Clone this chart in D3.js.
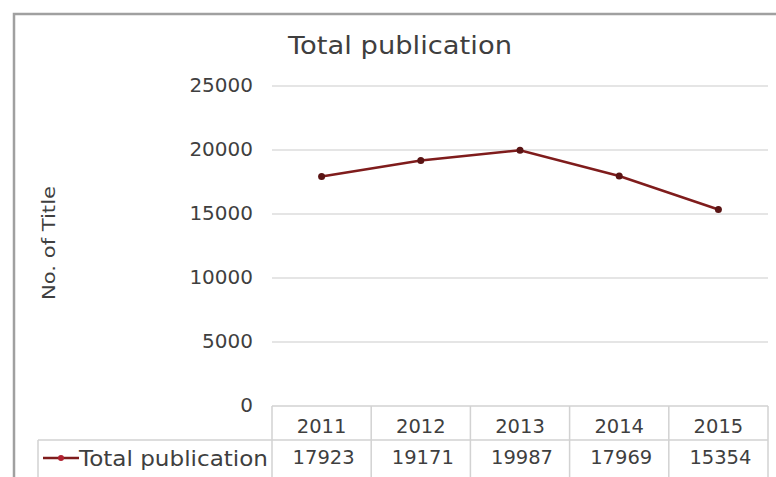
<!DOCTYPE html>
<html>
<head>
<meta charset="utf-8">
<script src="https://cdn.jsdelivr.net/npm/d3@7"></script>
<style>
  body { margin: 0; background: #fff; }
  svg { display: block; }
  text { font-family: "DejaVu Sans", sans-serif; fill: #3f3f3f; }
</style>
</head>
<body>
<div id="chart"></div>
<script>
// chart data
var years = ["2011", "2012", "2013", "2014", "2015"];
var totals = [17923, 19171, 19987, 17969, 15354];
var yTicks = [0, 5000, 10000, 15000, 20000, 25000];
var seriesName = "Total publication";

var w = 776;
var h = 477;
var lineColor = "#7f1c1c";

var svg = d3.select("#chart")
    .append("svg")
    .attr("width", w)
    .attr("height", h);

// outer frame (screenshot is cropped: only top and left edges show)
svg.append("path")
    .attr("d", "M14,477 V14 H776")
    .attr("fill", "none")
    .attr("stroke", "#a0a0a0")
    .attr("stroke-width", 2.5);

var xScale = d3.scaleBand()
    .domain(years)
    .range([272, 768]);

var yScale = d3.scaleLinear()
    .domain([0, 25000])
    .range([406, 86]);

// gridlines
svg.selectAll("line.grid")
    .data(yTicks.slice(1))
    .enter()
    .append("line")
    .attr("class", "grid")
    .attr("x1", 272)
    .attr("x2", 768)
    .attr("y1", function (d) { return yScale(d); })
    .attr("y2", function (d) { return yScale(d); })
    .attr("stroke", "#dcdcdc")
    .attr("stroke-width", 1.5);

// y axis labels
var yAxis = d3.axisLeft(yScale)
    .tickValues(yTicks)
    .tickSize(0)
    .tickPadding(0)
    .tickFormat(d3.format("d"));

var yG = svg.append("g")
    .attr("transform", "translate(253,0)")
    .call(yAxis);
yG.select(".domain").remove();
yG.selectAll("text")
    .attr("font-size", "20px")
    .attr("fill", "#3f3f3f")
    .style("font-family", "'DejaVu Sans', sans-serif")
    .attr("dy", "0.25em");

// y axis title
svg.append("text")
    .attr("transform", "translate(55,243) rotate(-90)")
    .attr("text-anchor", "middle")
    .attr("font-size", "18px")
    .attr("textLength", 114)
    .attr("lengthAdjust", "spacingAndGlyphs")
    .text("No. of Title");

// chart title
svg.append("text")
    .attr("x", 400)
    .attr("y", 54)
    .attr("text-anchor", "middle")
    .attr("font-size", "25px")
    .attr("textLength", 224)
    .attr("lengthAdjust", "spacingAndGlyphs")
    .attr("fill", "#2a2a2a")
    .text(seriesName);

// data table lines
var tableColor = "#d2d2d2";
var rowTop = 406, rowMid = 440, rowBot = 477;
var tbl = svg.append("g");
tbl.append("line").attr("x1", 272).attr("x2", 768).attr("y1", rowTop).attr("y2", rowTop);
tbl.append("line").attr("x1", 38).attr("x2", 768).attr("y1", rowMid).attr("y2", rowMid);
tbl.append("line").attr("x1", 38).attr("x2", 38).attr("y1", rowMid).attr("y2", rowBot);
tbl.selectAll("line.col")
    .data(years.concat(["end"]))
    .enter()
    .append("line")
    .attr("class", "col")
    .attr("x1", function (d, i) { return i < years.length ? xScale(d) : xScale.range()[1]; })
    .attr("x2", function (d, i) { return i < years.length ? xScale(d) : xScale.range()[1]; })
    .attr("y1", rowTop)
    .attr("y2", rowBot);
tbl.selectAll("line").attr("stroke", tableColor).attr("stroke-width", 1.5);

// year headers
svg.selectAll("text.year")
    .data(years)
    .enter()
    .append("text")
    .attr("class", "year")
    .attr("x", function (d) { return xScale(d) + xScale.bandwidth() / 2; })
    .attr("y", 433)
    .attr("text-anchor", "middle")
    .attr("font-size", "19.5px")
    .text(function (d) { return d; });

// values row
svg.selectAll("text.val")
    .data(totals)
    .enter()
    .append("text")
    .attr("class", "val")
    .attr("x", function (d, i) { return xScale(years[i]) + xScale.bandwidth() / 2 + 2; })
    .attr("y", 464)
    .attr("text-anchor", "middle")
    .attr("font-size", "19.5px")
    .text(function (d) { return d; });

// legend key in table
svg.append("line")
    .attr("x1", 43).attr("x2", 79)
    .attr("y1", 458).attr("y2", 458)
    .attr("stroke", lineColor).attr("stroke-width", 2.5);
svg.append("circle")
    .attr("cx", 61).attr("cy", 458).attr("r", 3)
    .attr("fill", "#b02030");
svg.append("text")
    .attr("x", 79)
    .attr("y", 466)
    .attr("font-size", "21px")
    .attr("textLength", 189)
    .attr("lengthAdjust", "spacingAndGlyphs")
    .text(seriesName);

// series line
var points = years.map(function (y, i) { return { year: y, value: totals[i] }; });
var line = d3.line()
    .x(function (d) { return xScale(d.year) + xScale.bandwidth() / 2; })
    .y(function (d) { return yScale(d.value); });

svg.append("path")
    .datum(points)
    .attr("d", line)
    .attr("fill", "none")
    .attr("stroke", lineColor)
    .attr("stroke-width", 2.5);

svg.selectAll("circle.pt")
    .data(points)
    .enter()
    .append("circle")
    .attr("class", "pt")
    .attr("cx", function (d) { return xScale(d.year) + xScale.bandwidth() / 2; })
    .attr("cy", function (d) { return yScale(d.value); })
    .attr("r", 3.5)
    .attr("fill", "#5a1414");
</script>
</body>
</html>
